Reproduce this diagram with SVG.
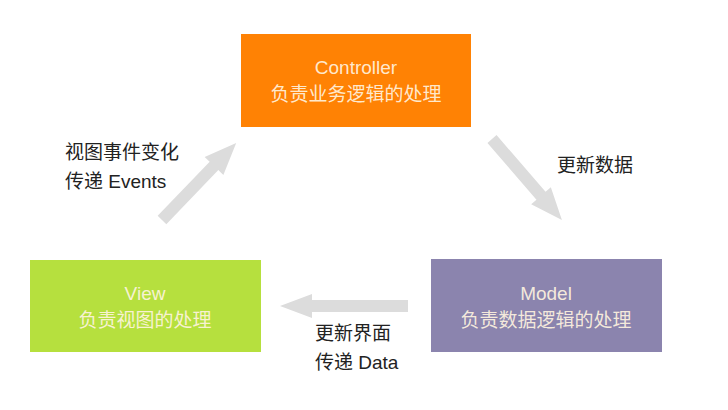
<svg xmlns="http://www.w3.org/2000/svg" width="728" height="410" viewBox="0 0 728 410">
<style>
text{font-family:"Liberation Sans","Noto Sans CJK SC",sans-serif;font-size:19px}
.bt{fill:#FFF4E0;fill-opacity:0.92;text-anchor:middle}
.lb{fill:#222}
.ar{fill:#DCDCDC}
</style>
<rect width="728" height="410" fill="#fff"/>
<g id="controller">
<rect x="241" y="34" width="230" height="93" fill="#FF8204"/>
<text class="bt" x="356" y="74">Controller</text>
<text class="bt" x="356" y="101">负责业务逻辑的处理</text>
</g>
<g id="view">
<rect x="30" y="260" width="231" height="92" fill="#B6E03E"/>
<text class="bt" x="145" y="300">View</text>
<text class="bt" x="145" y="327">负责视图的处理</text>
</g>
<g id="model">
<rect x="431" y="259" width="231" height="93" fill="#8B84AE"/>
<text class="bt" x="546" y="300">Model</text>
<text class="bt" x="546" y="327">负责数据逻辑的处理</text>
</g>
<g id="connectors">
<polygon class="ar" transform="translate(162,220) rotate(-46.1)" points="0,-6 75,-6 75,-13 107,0 75,13 75,6 0,6"/>
<polygon class="ar" transform="translate(492,139) rotate(49.2)" points="0,-6 75,-6 75,-13 107,0 75,13 75,6 0,6"/>
<polygon class="ar" transform="translate(408,306) rotate(180)" points="0,-6 96,-6 96,-12 128,0 96,12 96,6 0,6"/>
<text class="lb" x="65" y="159">视图事件变化</text>
<text class="lb" x="65" y="188">传递 Events</text>
<text class="lb" x="557" y="172">更新数据</text>
<text class="lb" x="315" y="340">更新界面</text>
<text class="lb" x="315" y="369">传递 Data</text>
</g>
</svg>
